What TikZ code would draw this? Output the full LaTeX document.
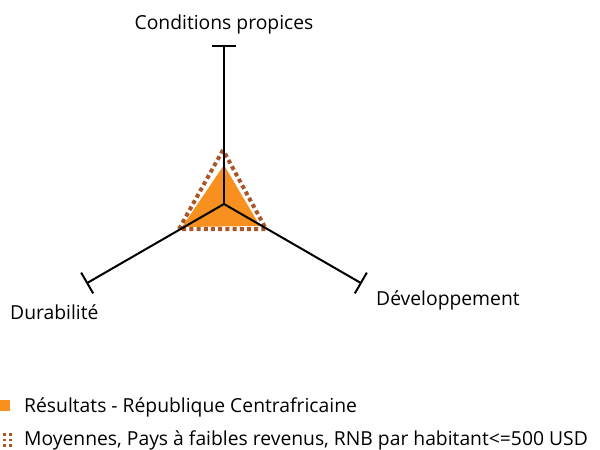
\documentclass[tikz,border=0pt]{standalone}
\usepackage{fontspec}
\setmainfont{Open Sans}
\usetikzlibrary{arrows.meta}
\definecolor{resorange}{HTML}{F7901E}
\definecolor{avgbrown}{HTML}{A8562A}
\begin{document}
\begin{tikzpicture}[x=1pt,y=-1pt,
  axis/.style={line width=2pt,black,-{Bar[width=24pt,line width=2pt]}},
  lbl/.style={font=\fontsize{19.3}{22}\selectfont,inner sep=0pt},
  avgline/.style={avgbrown,line width=4pt,dash pattern=on 4pt off 3.2pt}]
\useasboundingbox (0,0) rectangle (600,450);
\coordinate (c) at (224,204);
\coordinate (t) at (224,45);
\coordinate (l) at (86.3,283.5);
\coordinate (r) at (361.7,283.5);
% results
\fill[resorange] (224,165) -- (182,227) -- (260,226) -- cycle;
% averages
\draw[avgline] (223,150) -- (179,229) -- (266,229) -- cycle;
% axes
\draw[axis] (c) -- (t);
\draw[axis] (c) -- (l);
\draw[axis] (c) -- (r);
% labels
\node[lbl,anchor=base] (lt) at (224,29) {Conditions propices};
\node[lbl,anchor=base west] (ll) at (10,319) {Durabilité};
\node[lbl,anchor=base west] (lr) at (376,305) {Développement};
% legend
\fill[resorange] (0,400) rectangle (10,411);
\node[lbl,anchor=base west] (leg1) at (24,412.5) {Résultats - République Centrafricaine};
\foreach \yy in {433,438.5,444}{
  \fill[avgbrown] (3,\yy) rectangle (5.5,\yy+2.5);
  \fill[avgbrown] (9,\yy) rectangle (11.5,\yy+2.5);
}
\node[lbl,anchor=base west] (leg2) at (24,445.3) {Moyennes, Pays à faibles revenus, RNB par habitant<=500 USD};
\end{tikzpicture}
\end{document}
